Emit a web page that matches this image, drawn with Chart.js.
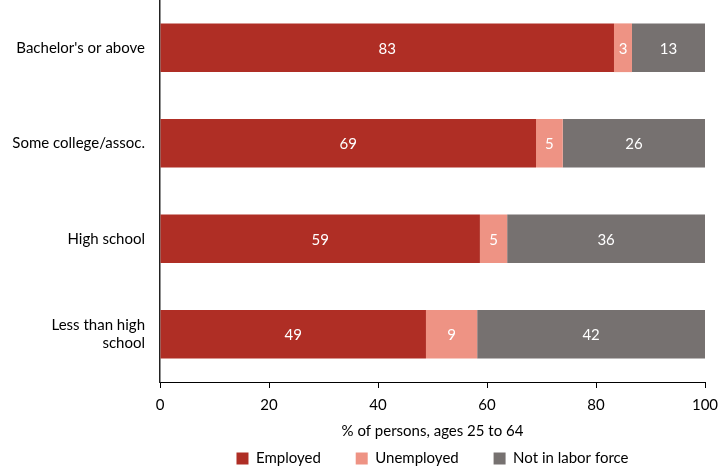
<!DOCTYPE html>
<html>
<head>
<meta charset="utf-8">
<script src="https://cdn.jsdelivr.net/npm/chart.js@4.4.0/dist/chart.umd.min.js"></script>
<style>
  html, body { margin: 0; padding: 0; background: #fff; }
  #wrap { width: 718px; height: 472px; }
</style>
</head>
<body>
<div id="wrap"><canvas id="myChart" width="718" height="472"></canvas></div>
<script>
// categories, top to bottom
var categories = [
  "Bachelor's or above",
  "Some college/assoc.",
  "High school",
  ["Less than high", "school"]
];

// % of persons, ages 25 to 64
var employed = [83.3, 69.0, 58.7, 48.8];
var unemployed = [3.3, 4.9, 5.0, 9.4];
var notInLaborForce = [13.4, 26.1, 36.3, 41.8];

var xTicks = [0, 20, 40, 60, 80, 100];

var FONT = "Lato, 'Open Sans', sans-serif";

// white value labels in the middle of each segment
var barLabels = {
  id: "barLabels",
  afterDatasetsDraw: function (chart) {
    var ctx = chart.ctx;
    ctx.save();
    ctx.fillStyle = "#fff";
    ctx.font = "15px " + FONT;
    ctx.textAlign = "center";
    ctx.textBaseline = "middle";
    chart.data.datasets.forEach(function (ds, i) {
      chart.getDatasetMeta(i).data.forEach(function (bar, j) {
        var x = (bar.x + bar.base) / 2;
        ctx.fillText(Math.round(ds.data[j]), x, bar.y + 1);
      });
    });
    ctx.restore();
  }
};

// wider gap between legend items without extra vertical padding
function legendLabels(chart) {
  var items = Chart.defaults.plugins.legend.labels.generateLabels(chart);
  items.forEach(function (item, i) {
    if (i < items.length - 1) item.text = item.text + "       ";
  });
  return items;
}

var ctx = document.getElementById("myChart").getContext("2d");
var chart = new Chart(ctx, {
  type: "bar",
  data: {
    labels: categories,
    datasets: [
      {
        label: "Employed",
        data: employed,
        backgroundColor: "#af2e25"
      },
      {
        label: "Unemployed",
        data: unemployed,
        backgroundColor: "#ee9384"
      },
      {
        label: "Not in labor force",
        data: notInLaborForce,
        backgroundColor: "#767170"
      }
    ]
  },
  options: {
    indexAxis: "y",
    responsive: false,
    animation: false,
    barPercentage: 0.51,
    categoryPercentage: 1,
    layout: { padding: { top: 0, left: 0, right: 13, bottom: -4 } },
    scales: {
      x: {
        stacked: true,
        min: 0,
        max: 100,
        afterBuildTicks: function (scale) {
          scale.ticks = xTicks.map(function (v) { return { value: v }; });
        },
        afterFit: function (scale) {
          scale.paddingLeft = 0;
          scale.paddingRight = 0;
        },
        grid: {
          drawOnChartArea: false,
          drawTicks: true,
          tickLength: 6,
          color: "#000"
        },
        border: { color: "#000", width: 1 },
        ticks: {
          color: "#000",
          font: { family: FONT, size: 15 },
          padding: 8,
          maxRotation: 0
        },
        title: {
          display: true,
          text: "% of persons, ages 25 to 64",
          color: "#000",
          font: { family: FONT, size: 15 },
          padding: { top: 0, bottom: 3 }
        }
      },
      y: {
        stacked: true,
        afterFit: function (scale) {
          scale.width = 160;
          scale.paddingTop = 0;
          scale.paddingBottom = 0;
        },
        grid: { display: false, drawTicks: false },
        border: { color: "#222", width: 1.5 },
        ticks: {
          color: "#000",
          font: { family: FONT, size: 15 },
          padding: 15
        }
      }
    },
    plugins: {
      legend: {
        position: "bottom",
        fullSize: false,
        labels: {
          boxWidth: 12,
          boxHeight: 12,
          padding: 8,
          color: "#000",
          font: { family: FONT, size: 15 },
          generateLabels: legendLabels
        }
      },
      tooltip: { enabled: false }
    }
  },
  plugins: [barLabels]
});
</script>
</body>
</html>
